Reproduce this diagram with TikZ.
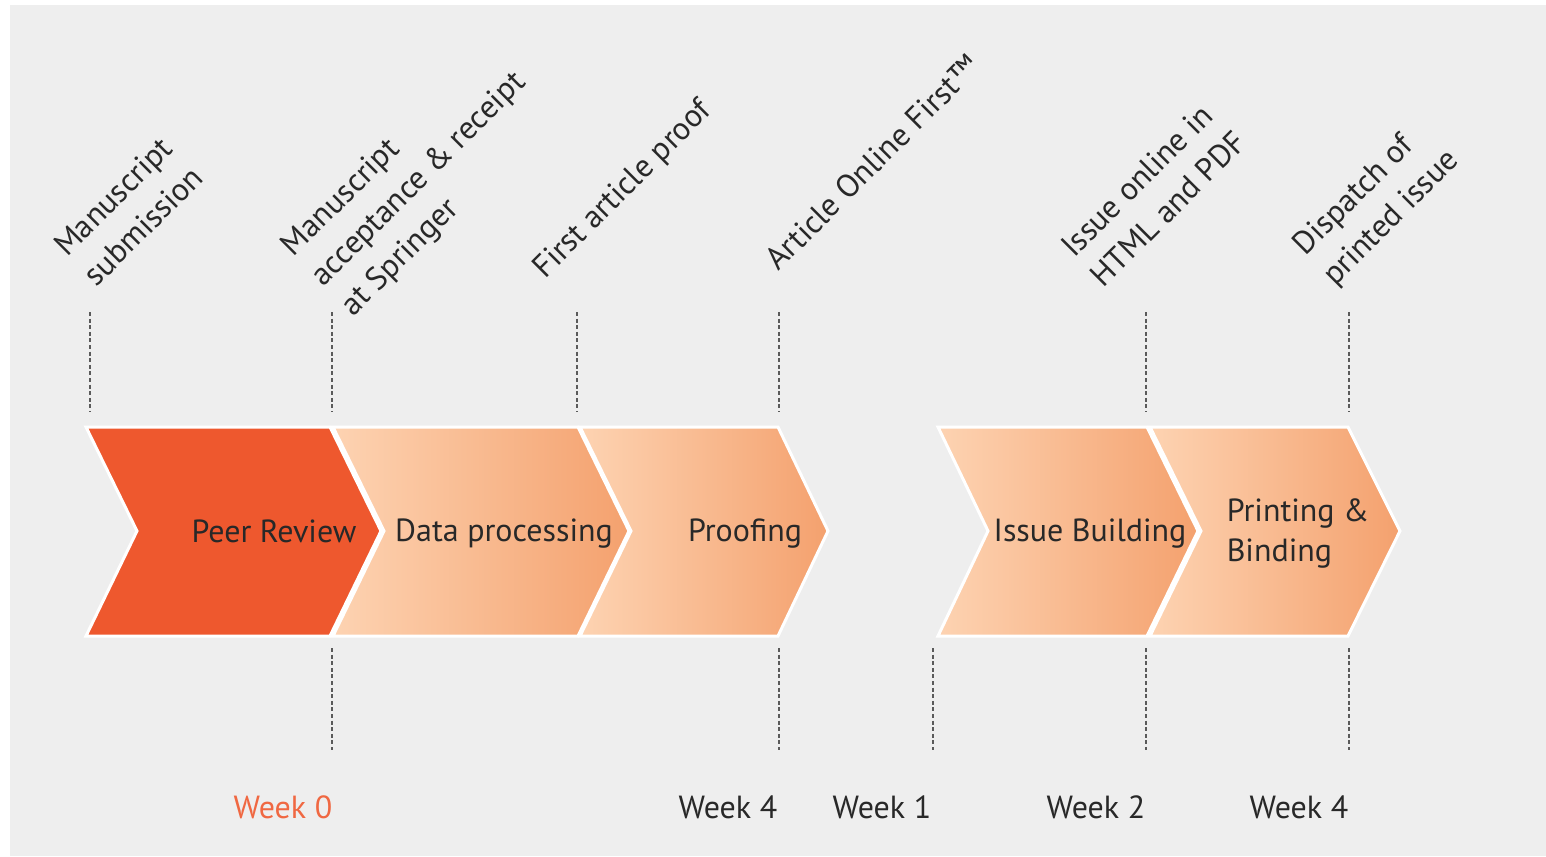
\documentclass[tikz,border=0pt]{standalone}
\usepackage{fontspec}
\setmainfont{PT Sans}
\usepackage{tikz}
\tikzset{every picture/.style={line width=0.75pt}}
\definecolor{bggray}{RGB}{238,238,238}
\definecolor{peerorange}{RGB}{238,88,46}
\definecolor{peachlight}{RGB}{253,211,178}
\definecolor{peachdark}{RGB}{244,161,110}
\definecolor{txtgray}{RGB}{40,40,40}
\definecolor{weekorange}{RGB}{240,104,66}
\definecolor{dashgray}{RGB}{90,90,90}
\tikzset{
  stagefill/.style={left color=peachlight, right color=peachdark, draw=white, line width=1.5pt, line join=miter},
  tick/.style={draw=dashgray, line width=0.6pt, dash pattern=on 2pt off 1.3pt},
  lbl/.style={inner sep=0pt, text=txtgray, font=\fontsize{16}{21}\selectfont, align=left},
  weeklbl/.style={inner sep=0pt, text=txtgray, font=\fontsize{16}{20}\selectfont, anchor=base east}
}
\begin{document}
\begin{tikzpicture}[x=0.5pt,y=0.5pt,yscale=-1,xscale=1]
\path[use as bounding box] (0,0) rectangle (1546,856);

%Shape: Background
\fill[white] (0,0) rectangle (1546,856);
\fill[bggray] (10,5) rectangle (1546,856);

%Shape: Chevron Peer Review
\path[fill=peerorange, draw=white, line width=1.5pt, line join=miter] (86,427) -- (330,427) -- (381,531) -- (330,636) -- (86,636) -- (137,531) -- cycle ;
%Shape: Chevron Data processing
\path[stagefill] (333,427) -- (578,427) -- (629,531) -- (578,636) -- (333,636) -- (384,531) -- cycle ;
%Shape: Chevron Proofing
\path[stagefill] (580,427) -- (778,427) -- (828,531) -- (778,636) -- (580,636) -- (631,531) -- cycle ;
%Shape: Chevron Issue Building
\path[stagefill] (938,427) -- (1147,427) -- (1198,531) -- (1147,636) -- (938,636) -- (988,531) -- cycle ;
%Shape: Chevron Printing
\path[stagefill] (1150,427) -- (1348,427) -- (1400,531) -- (1348,636) -- (1150,636) -- (1201,531) -- cycle ;

%Straight Lines: upper ticks
\draw[tick] (90,312) -- (90,412) ;
\draw[tick] (332,312) -- (332,412) ;
\draw[tick] (577,312) -- (577,412) ;
\draw[tick] (779,312) -- (779,412) ;
\draw[tick] (1146,312) -- (1146,412) ;
\draw[tick] (1349,312) -- (1349,412) ;
%Straight Lines: lower ticks
\draw[tick] (332,648) -- (332,750) ;
\draw[tick] (779,648) -- (779,750) ;
\draw[tick] (933,648) -- (933,750) ;
\draw[tick] (1146,648) -- (1146,750) ;
\draw[tick] (1349,648) -- (1349,750) ;

% Text Node
\node[lbl, anchor=center] (peer) at (274,531) {Peer Review};
% Text Node
\node[lbl, anchor=center] (data) at (504,534) {Data processing};
% Text Node
\node[lbl, anchor=center] (proof) at (745,534) {Proofing};
% Text Node
\node[lbl, anchor=center] (issue) at (1090,534) {Issue Building};
% Text Node
\node[lbl, anchor=west, font=\fontsize{16}{20}\selectfont] (print) at (1226,533) {Printing \&\\Binding};

% Text Node
\node[lbl, anchor=south west, rotate=45] (submit) at (97,289) {Manuscript\\submission};
% Text Node
\node[lbl, anchor=south west, rotate=45] (accept) at (358,323) {Manuscript\\acceptance \& receipt\\at Springer};
% Text Node
\node[lbl, anchor=south west, rotate=45] (firstproof) at (550,285) {First article proof};
% Text Node
\node[lbl, anchor=south west, rotate=45] (online) at (779,273) {Article Online First™};
% Text Node
\node[lbl, anchor=south west, rotate=45] (issueonline) at (1104,290) {Issue online in\\HTML and PDF};
% Text Node
\node[lbl, anchor=south west, rotate=45] (dispatch) at (1340,292) {Dispatch of\\printed issue};

% Text Node
\node[weeklbl, text=weekorange] (wk0) at (333,818) {Week 0};
% Text Node
\node[weeklbl] (wk4a) at (778,818) {Week 4};
% Text Node
\node[weeklbl] (wk1) at (932,818) {Week 1};
% Text Node
\node[weeklbl] (wk2) at (1146,818) {Week 2};
% Text Node
\node[weeklbl] (wk4b) at (1349,818) {Week 4};

\end{tikzpicture}
\end{document}
